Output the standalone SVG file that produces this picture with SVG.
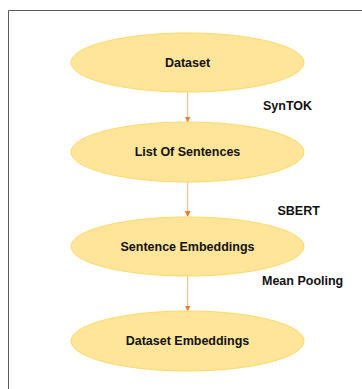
<svg xmlns="http://www.w3.org/2000/svg" width="362" height="389" viewBox="0 0 362 389">
  <defs>
    <marker id="arrow" viewBox="0 0 6 6" refX="5.5" refY="3" markerWidth="6" markerHeight="6" markerUnits="userSpaceOnUse" orient="auto">
      <path d="M0,0 L6,3 L0,6 z" fill="#ed7d31"/>
    </marker>
    <style>
      .node ellipse { fill: #fee599; stroke: #ffd966; stroke-width: 1; }
      .node text, .label { font-family: "Liberation Sans", Arial, sans-serif; font-weight: bold; font-size: 12.5px; fill: #111; }
      .node text { text-anchor: middle; dominant-baseline: central; }
      .edge { stroke: #f4b183; stroke-width: 1; fill: none; marker-end: url(#arrow); }
    </style>
  </defs>
  <rect width="362" height="389" fill="#ffffff"/>
  <!-- frame -->
  <path d="M8.5,389 L8.5,10.5 L362,10.5" fill="none" stroke="#595959" stroke-width="1"/>

  <g id="connectors">
    <line class="edge" x1="187.7" y1="92" x2="187.7" y2="122"/>
    <line class="edge" x1="187.7" y1="182" x2="187.7" y2="216.5"/>
    <line class="edge" x1="187.7" y1="276" x2="187.7" y2="311"/>
  </g>

  <g id="dataset" class="node">
    <ellipse cx="187.5" cy="62.5" rx="116.5" ry="29.5"/>
    <text x="187.5" y="62.5">Dataset</text>
  </g>
  <g id="list-of-sentences" class="node">
    <ellipse cx="187.5" cy="152" rx="116.5" ry="30"/>
    <text x="187.5" y="152">List Of Sentences</text>
  </g>
  <g id="sentence-embeddings" class="node">
    <ellipse cx="187.5" cy="246.5" rx="116.5" ry="29.5"/>
    <text x="187.5" y="246.5">Sentence Embeddings</text>
  </g>
  <g id="dataset-embeddings" class="node">
    <ellipse cx="187.5" cy="341" rx="116.5" ry="30"/>
    <text x="187.5" y="341">Dataset Embeddings</text>
  </g>

  <g id="edge-labels">
    <text class="label" x="263" y="109.5">SynTOK</text>
    <text class="label" x="277.5" y="214.5">SBERT</text>
    <text class="label" x="262" y="285">Mean Pooling</text>
  </g>
</svg>
